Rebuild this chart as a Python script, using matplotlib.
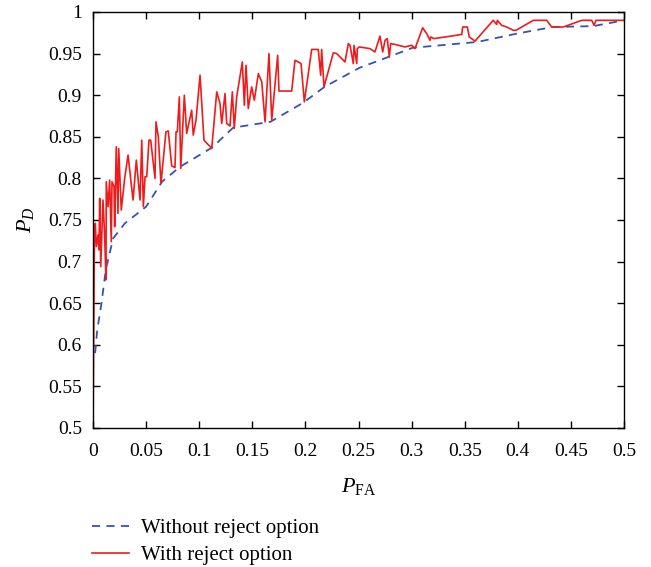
import numpy as np
import matplotlib
matplotlib.use('Agg')
import matplotlib.pyplot as plt

plt.rcParams['font.family'] = ['Liberation Serif', 'DejaVu Serif']
plt.rcParams['mathtext.fontset'] = 'custom'
plt.rcParams['mathtext.rm'] = 'Liberation Serif'
plt.rcParams['mathtext.it'] = 'Liberation Serif:italic'

# ROC without reject option
pfa_plain = [0.002, 0.004, 0.008, 0.012, 0.019, 0.030, 0.05, 0.065, 0.082,
             0.112, 0.132, 0.167, 0.198, 0.218, 0.251, 0.27, 0.301, 0.362, 0.399,
             0.433, 0.471, 0.5]
pd_plain = [0.59, 0.618, 0.65, 0.69, 0.728, 0.746, 0.766, 0.796, 0.814,
            0.837, 0.861, 0.868, 0.891, 0.91, 0.933, 0.942, 0.957, 0.964, 0.974,
            0.982, 0.983, 0.99]

# ROC with reject option
pfa_reject = [0.000, 0.0014, 0.0022, 0.0031, 0.0047, 0.0056, 0.0063, 0.0073, 0.0094, 0.011,
              0.0122, 0.0125, 0.0141, 0.0157, 0.0172, 0.0179, 0.0198, 0.0204, 0.0219, 0.0235,
              0.0242, 0.0266, 0.0298, 0.033, 0.0377, 0.0408, 0.0443, 0.0459, 0.0474, 0.049,
              0.0506, 0.0527, 0.0543, 0.0584, 0.0593, 0.0615, 0.064, 0.0687, 0.0709, 0.0741,
              0.0772, 0.0782, 0.0794, 0.0813, 0.0826, 0.086, 0.0882, 0.0929, 0.0944, 0.097,
              0.1008, 0.1045, 0.1118, 0.1165, 0.1196, 0.1212, 0.1243, 0.1259, 0.129, 0.1312,
              0.133, 0.1353, 0.1406, 0.1425, 0.1441, 0.1462, 0.1494, 0.1519, 0.1557, 0.1589,
              0.162, 0.1657, 0.1683, 0.1739, 0.1751, 0.1871, 0.1902, 0.1933, 0.1959, 0.199,
              0.2059, 0.2121, 0.2144, 0.2153, 0.2175, 0.2263, 0.2295, 0.2373, 0.2404, 0.242,
              0.2451, 0.2458, 0.2483, 0.2489, 0.2508, 0.2608, 0.2655, 0.2702, 0.2728, 0.275,
              0.2771, 0.279, 0.2803, 0.2844, 0.2875, 0.2938, 0.3001, 0.3032, 0.3104, 0.3142,
              0.3173, 0.318, 0.3211, 0.3472, 0.3481, 0.3525, 0.3543, 0.3597, 0.3769, 0.3801,
              0.3807, 0.3848, 0.3895, 0.3958, 0.3983, 0.4146, 0.4272, 0.4319, 0.4429, 0.4602,
              0.4696, 0.4718, 0.4736, 0.5]
pd_reject = [0.500, 0.738, 0.746, 0.718, 0.732, 0.714, 0.776, 0.694, 0.774, 0.730,
             0.678, 0.796, 0.766, 0.798, 0.724, 0.796, 0.790, 0.742, 0.838, 0.758,
             0.836, 0.762, 0.800, 0.828, 0.774, 0.822, 0.774, 0.846, 0.766, 0.802,
             0.802, 0.846, 0.846, 0.800, 0.868, 0.850, 0.794, 0.856, 0.857, 0.815,
             0.813, 0.856, 0.856, 0.898, 0.812, 0.900, 0.854, 0.882, 0.852, 0.870,
             0.924, 0.846, 0.836, 0.904, 0.890, 0.866, 0.902, 0.866, 0.863, 0.904,
             0.860, 0.898, 0.940, 0.888, 0.936, 0.884, 0.910, 0.894, 0.926, 0.916,
             0.868, 0.950, 0.870, 0.948, 0.905, 0.905, 0.942, 0.940, 0.938, 0.892,
             0.955, 0.955, 0.924, 0.955, 0.910, 0.951, 0.950, 0.940, 0.962, 0.960,
             0.938, 0.960, 0.938, 0.956, 0.958, 0.956, 0.952, 0.971, 0.952, 0.966,
             0.968, 0.946, 0.962, 0.961, 0.960, 0.958, 0.960, 0.956, 0.981, 0.974,
             0.966, 0.970, 0.968, 0.973, 0.982, 0.982, 0.970, 0.965, 0.990, 0.985,
             0.990, 0.984, 0.982, 0.978, 0.978, 0.990, 0.990, 0.982, 0.982, 0.990,
             0.990, 0.984, 0.990, 0.990]

xticks = [0, 0.05, 0.1, 0.15, 0.2, 0.25, 0.3, 0.35, 0.4, 0.45, 0.5]
yticks = [0.5, 0.55, 0.6, 0.65, 0.7, 0.75, 0.8, 0.85, 0.9, 0.95, 1]

fig = plt.figure(figsize=(6.51, 5.67), dpi=100)
ax = fig.add_axes([93 / 651, 1 - 428 / 567, 531 / 651, 416 / 567])

l1, = ax.plot(pfa_plain, pd_plain, color='#3553b0', lw=1.3, ls=(0, (4.5, 3.5)),
              label='Without reject option')
l2, = ax.plot(pfa_reject, pd_reject, color='#ee1c1c', lw=1.2,
              label='With reject option')

ax.set_xlim(0, 0.5)
ax.set_ylim(0.5, 1)
ax.set_xticks(xticks)
ax.set_yticks(yticks)
ax.set_xticklabels(['%g' % t for t in xticks])
ax.set_yticklabels(['%g' % t for t in yticks])
ax.tick_params(direction='in', length=5, width=1, top=True, right=True,
               labelsize=14)
ax.tick_params(axis='x', pad=11)
ax.tick_params(axis='y', pad=8)
for s in ax.spines.values():
    s.set_linewidth(1)

ax.set_xlabel(r'$P_{\mathrm{FA}}$', fontsize=16, labelpad=11)
ax.set_ylabel(r'$P_D$', fontsize=16, labelpad=9)

fig.legend(handles=[l1, l2], loc='upper left', bbox_to_anchor=(84 / 651, 1 - 510 / 567),
           frameon=False, fontsize=15, handlelength=1.75, handletextpad=0.6,
           labelspacing=0.38, borderaxespad=0)

fig.savefig('out.png', dpi=100)
